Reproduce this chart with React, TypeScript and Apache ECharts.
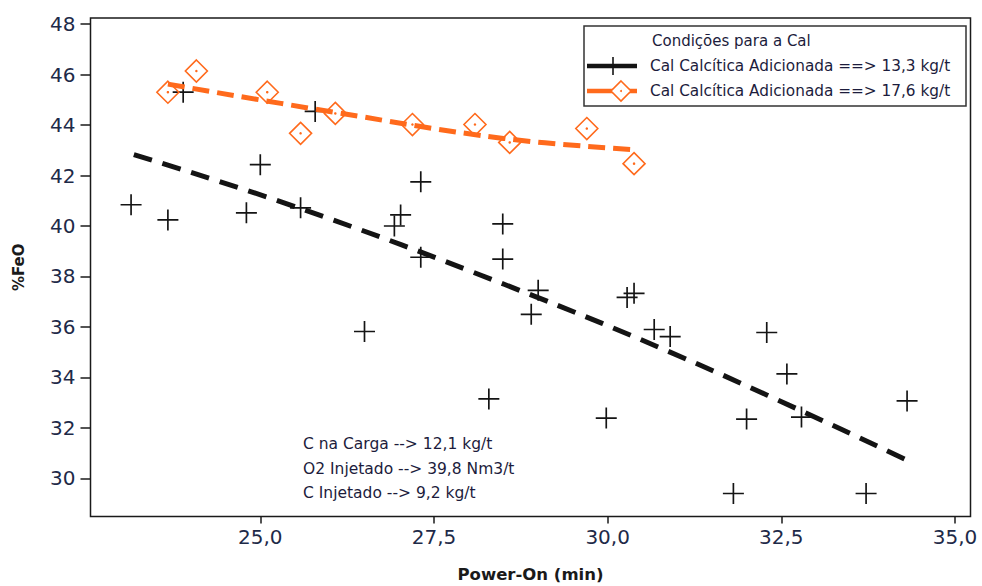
import React, { useEffect, useRef } from "react";
import * as echarts from "echarts";

// Axis ticks
const xTicks = [25, 27.5, 30, 32.5, 35];
const yTicks = [30, 32, 34, 36, 38, 40, 42, 44, 46, 48];

// Heats with 13,3 kg/t of calcitic lime: Power-On (min) vs %FeO
const lowLimeTime = [
  23.14, 23.67, 23.89, 24.8, 25.0, 25.58, 25.79, 26.5, 26.93, 27.02, 27.31, 27.31,
  28.29, 28.49, 28.49, 28.9, 29.0, 29.98, 30.28, 30.38, 30.67, 30.9, 31.81, 32.0,
  32.29, 32.58, 32.79, 33.72, 34.31,
];
const lowLimeFeO = [
  40.84, 40.24, 45.3, 40.52, 42.43, 40.72, 44.54, 35.82, 40.0, 40.44, 41.75, 38.76,
  33.15, 40.08, 38.69, 36.5, 37.45, 32.39, 37.17, 37.33, 35.9, 35.62, 29.4, 32.35,
  35.78, 34.14, 32.43, 29.4, 33.07,
];

// Heats with 17,6 kg/t of calcitic lime
const highLimeTime = [23.67, 24.08, 25.1, 25.58, 26.08, 27.19, 28.09, 28.59, 29.7, 30.38];
const highLimeFeO = [45.3, 46.14, 45.3, 43.67, 44.46, 44.02, 44.02, 43.31, 43.86, 42.47];

// Fitted trend curves
const lowLimeFitTime = [23.18, 25.55, 28.51, 31.32, 34.31];
const lowLimeFitFeO = [42.83, 40.72, 37.69, 34.5, 30.72];
const highLimeFitTime = [23.67, 26.08, 28.5, 30.34];
const highLimeFitFeO = [45.62, 44.5, 43.47, 43.03];

const legendTitle = "Condições para a Cal";
const seriesNames = [
  "Cal Calcítica Adicionada ==> 13,3 kg/t",
  "Cal Calcítica Adicionada ==> 17,6 kg/t",
];
const notes = [
  "C na Carga --> 12,1 kg/t",
  "O2 Injetado --> 39,8 Nm3/t",
  "C Injetado --> 9,2 kg/t",
];

const BLACK = "#141414";
const ORANGE = "#ff6a1c";
const LABEL = "#1e2a48";
const TEXT = "#1c1c3c";
const CROSS = "path://M0,9.2H20V10.8H0Z M9.2,0H10.8V20H9.2Z";

const pairs = (xs: number[], ys: number[]) => xs.map((x, i) => [x, ys[i]]);

export default function App() {
  const ref = useRef<HTMLDivElement>(null);

  useEffect(() => {
    if (!ref.current) return;
    const chart = echarts.init(ref.current, null, { renderer: "svg" });

    const textFont = "DejaVu Sans";
    const graphic: any[] = [
      {
        type: "rect",
        shape: { x: 584, y: 26, width: 382, height: 80 },
        style: { fill: "#fff", stroke: "#333", lineWidth: 1.5 },
        z: 10,
      },
      {
        type: "text",
        x: 652,
        y: 41,
        style: { text: legendTitle, fill: TEXT, font: `15px '${textFont}'`, verticalAlign: "middle" },
        z: 11,
      },
      {
        type: "line",
        shape: { x1: 587, y1: 66, x2: 637, y2: 66 },
        style: { stroke: BLACK, lineWidth: 4.5 },
        z: 11,
      },
      {
        type: "line",
        shape: { x1: 613, y1: 57, x2: 613, y2: 75 },
        style: { stroke: BLACK, lineWidth: 1.6 },
        z: 11,
      },
      {
        type: "text",
        x: 650,
        y: 66,
        style: { text: seriesNames[0], fill: TEXT, font: `15.3px '${textFont}'`, verticalAlign: "middle" },
        z: 11,
      },
      {
        type: "line",
        shape: { x1: 587, y1: 91, x2: 637, y2: 91 },
        style: { stroke: ORANGE, lineWidth: 4.5 },
        z: 11,
      },
      {
        type: "polygon",
        shape: { points: [[621, 81], [631, 91], [621, 101], [611, 91]] },
        style: { fill: "#fff", stroke: ORANGE, lineWidth: 1.6 },
        z: 12,
      },
      {
        type: "circle",
        shape: { cx: 621, cy: 91, r: 1 },
        style: { fill: ORANGE },
        z: 12,
      },
      {
        type: "text",
        x: 650,
        y: 91,
        style: { text: seriesNames[1], fill: TEXT, font: `15.3px '${textFont}'`, verticalAlign: "middle" },
        z: 11,
      },
      ...notes.map((t, i) => ({
        type: "text",
        x: 303,
        y: 444 + i * 24.5,
        style: { text: t, fill: TEXT, font: `15.5px '${textFont}'`, verticalAlign: "middle" },
        z: 11,
      })),
    ];

    chart.setOption({
      animation: false,
      backgroundColor: "#fff",
      grid: {
        left: 90.5,
        right: 11.5,
        top: 18,
        bottom: 69.5,
        show: true,
        borderColor: "#1a1a1a",
        borderWidth: 1.5,
        outerBoundsMode: "none",
      },
      xAxis: {
        type: "value",
        min: 22.556,
        max: 35.223,
        name: "Power-On (min)",
        nameLocation: "middle",
        nameGap: 49,
        nameTextStyle: { fontFamily: "DejaVu Sans", fontWeight: "bold", fontSize: 16.5, color: "#1a1a1a" },
        axisLine: { show: false },
        axisTick: { show: true, customValues: xTicks, length: 7, lineStyle: { color: "#1a1a1a", width: 1.5 } },
        axisLabel: {
          customValues: xTicks,
          margin: 10,
          fontFamily: "DejaVu Sans",
          fontSize: 20,
          color: LABEL,
          formatter: (v: number) => v.toFixed(1).replace(".", ","),
        },
        splitLine: { show: false },
      },
      yAxis: {
        type: "value",
        min: 28.49,
        max: 48.24,
        name: "%FeO",
        nameLocation: "middle",
        nameGap: 64,
        nameTextStyle: { fontFamily: "DejaVu Sans", fontWeight: "bold", fontSize: 15, color: "#1a1a1a" },
        axisLine: { show: false },
        axisTick: { show: true, customValues: yTicks, length: 10, lineStyle: { color: "#1a1a1a", width: 1.5 } },
        axisLabel: {
          customValues: yTicks,
          margin: 15,
          fontFamily: "DejaVu Sans",
          fontSize: 20,
          color: LABEL,
          formatter: (v: number) => String(Math.round(v)),
        },
        splitLine: { show: false },
      },
      series: [
        {
          name: seriesNames[0] + " (ajuste)",
          type: "line",
          data: pairs(lowLimeFitTime, lowLimeFitFeO),
          smooth: 0.4,
          showSymbol: false,
          lineStyle: { color: BLACK, width: 5, type: [19, 11] },
          silent: true,
        },
        {
          name: seriesNames[1] + " (ajuste)",
          type: "line",
          data: pairs(highLimeFitTime, highLimeFitFeO),
          smooth: 0.4,
          showSymbol: false,
          lineStyle: { color: ORANGE, width: 5, type: [17, 8] },
          silent: true,
        },
        {
          name: seriesNames[0],
          type: "scatter",
          data: pairs(lowLimeTime, lowLimeFeO),
          symbol: CROSS,
          symbolSize: 21,
          itemStyle: { color: BLACK, opacity: 1 },
        },
        {
          name: seriesNames[1],
          type: "scatter",
          data: pairs(highLimeTime, highLimeFeO),
          symbol: "diamond",
          symbolSize: 22,
          itemStyle: { color: "rgba(255,255,255,0)", borderColor: ORANGE, borderWidth: 1.6, opacity: 1 },
        },
        {
          name: seriesNames[1] + " centro",
          type: "scatter",
          data: pairs(highLimeTime, highLimeFeO),
          symbol: "circle",
          symbolSize: 2.5,
          itemStyle: { color: ORANGE, opacity: 1 },
          silent: true,
        },
      ],
      graphic,
    });

    return () => chart.dispose();
  }, []);

  return (
    <div
      ref={ref}
      style={{ position: "fixed", left: 0, top: 0, width: 982, height: 586, background: "#fff" }}
    />
  );
}
